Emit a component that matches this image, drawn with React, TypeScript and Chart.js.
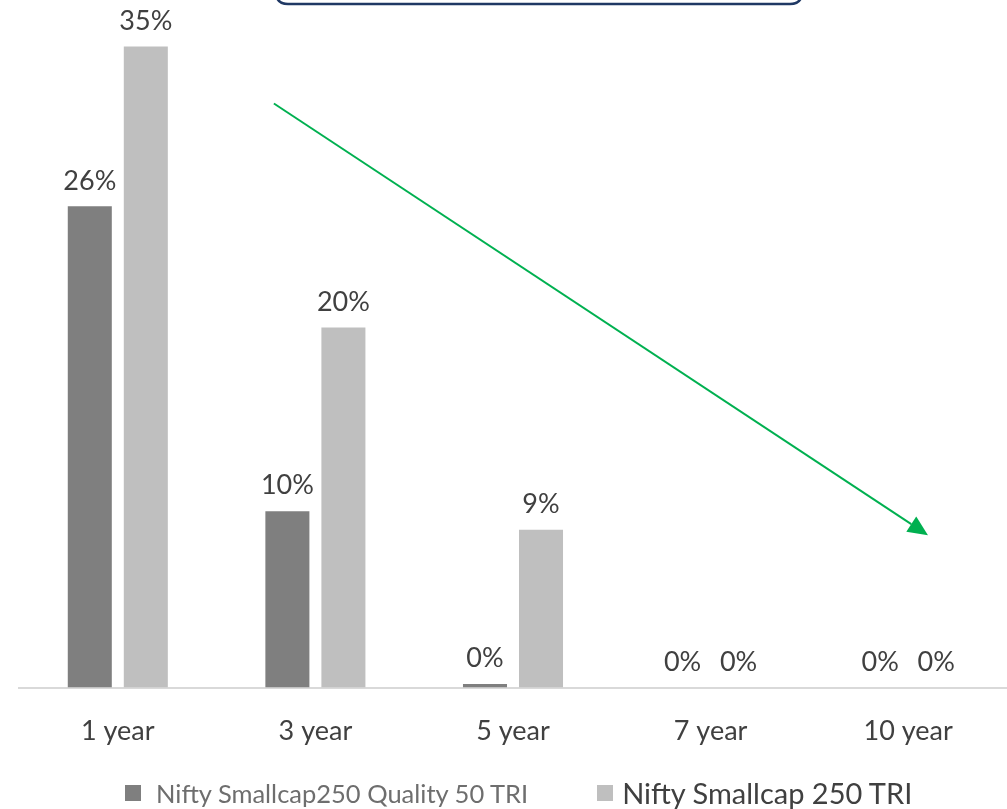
import React, { useEffect, useRef } from "react";
import { Chart, registerables } from "chart.js";

Chart.register(...registerables);

const CATEGORIES = ["1 year", "3 year", "5 year", "7 year", "10 year"];
const QUALITY_50 = [26.2, 9.6, 0.2, 0, 0];
const SMALLCAP_250 = [34.9, 19.6, 8.6, 0, 0];
const SERIES_NAMES = ["Nifty Smallcap250 Quality 50 TRI", "Nifty Smallcap 250 TRI"];
const SERIES_COLORS = ["#7F7F7F", "#BFBFBF"];
const LEGEND_TEXT_COLORS = ["#6E6E6E", "#404040"];
const LEGEND_FONT_SIZES = [25.5, 29];
const Y_MAX = 37;
// arrow in data space: [categoryIndex, value]
const ARROW_FROM = [0.79, 31.8];
const ARROW_TO = [4.1, 8.3];

const FONT = "Lato";

const dataLabelPlugin = {
  id: "dataLabels",
  afterDatasetsDraw(chart: any) {
    const ctx = chart.ctx;
    ctx.save();
    ctx.font = `27px ${FONT}`;
    ctx.fillStyle = "#404040";
    ctx.textAlign = "center";
    ctx.textBaseline = "bottom";
    chart.data.datasets.forEach((ds: any, di: number) => {
      const meta = chart.getDatasetMeta(di);
      meta.data.forEach((bar: any, i: number) => {
        const v = ds.data[i];
        ctx.fillText(`${Math.round(v)}%`, bar.x, bar.y - 12);
      });
    });
    ctx.restore();
  },
};

const decorPlugin = {
  id: "decor",
  afterDraw(chart: any) {
    const ctx = chart.ctx;
    const xs = chart.scales.x;
    const ys = chart.scales.y;
    // arrow
    const x1 = xs.getPixelForValue(ARROW_FROM[0]);
    const y1 = ys.getPixelForValue(ARROW_FROM[1]);
    const x2 = xs.getPixelForValue(ARROW_TO[0]);
    const y2 = ys.getPixelForValue(ARROW_TO[1]);
    const ang = Math.atan2(y2 - y1, x2 - x1);
    const head = 20;
    const hw = 9;
    ctx.save();
    ctx.strokeStyle = "#00B050";
    ctx.fillStyle = "#00B050";
    ctx.lineWidth = 2;
    const bx = x2 - Math.cos(ang) * head;
    const by = y2 - Math.sin(ang) * head;
    ctx.beginPath();
    ctx.moveTo(x1, y1);
    ctx.lineTo(bx, by);
    ctx.stroke();
    ctx.beginPath();
    ctx.moveTo(x2, y2);
    ctx.lineTo(bx + Math.sin(ang) * hw, by - Math.cos(ang) * hw);
    ctx.lineTo(bx - Math.sin(ang) * hw, by + Math.cos(ang) * hw);
    ctx.closePath();
    ctx.fill();
    // partially visible title box
    const left = 276;
    const right = 802;
    const bottom = 4;
    const top = -60;
    const r = 12;
    ctx.strokeStyle = "#1F3864";
    ctx.lineWidth = 2.5;
    ctx.beginPath();
    ctx.moveTo(left, top);
    ctx.lineTo(left, bottom - r);
    ctx.quadraticCurveTo(left, bottom, left + r, bottom);
    ctx.lineTo(right - r, bottom);
    ctx.quadraticCurveTo(right, bottom, right, bottom - r);
    ctx.lineTo(right, top);
    ctx.stroke();
    ctx.restore();
  },
};

export default function App() {
  const canvasRef = useRef<HTMLCanvasElement | null>(null);

  useEffect(() => {
    if (!canvasRef.current) return;
    const chart = new Chart(canvasRef.current, {
      type: "bar",
      data: {
        labels: CATEGORIES,
        datasets: [
          {
            label: SERIES_NAMES[0],
            data: QUALITY_50,
            backgroundColor: SERIES_COLORS[0],
            categoryPercentage: 0.567,
            barPercentage: 0.786,
          },
          {
            label: SERIES_NAMES[1],
            data: SMALLCAP_250,
            backgroundColor: SERIES_COLORS[1],
            categoryPercentage: 0.567,
            barPercentage: 0.786,
          },
        ],
      },
      options: {
        responsive: true,
        maintainAspectRatio: false,
        animation: false,
        layout: { padding: { top: 8, left: 19, right: 0, bottom: 35 } },
        plugins: {
          tooltip: { enabled: false },
          legend: { display: false },
        },
        scales: {
          x: {
            grid: { display: false, drawTicks: false },
            border: { display: true, color: "#D9D9D9", width: 2 },
            ticks: {
              font: { family: FONT, size: 27 },
              color: "#404040",
              padding: 27,
            },
          },
          y: {
            display: false,
            min: 0,
            max: Y_MAX,
          },
        },
      },
      plugins: [dataLabelPlugin, decorPlugin],
    });
    return () => chart.destroy();
  }, []);

  return (
    <div
      style={{
        position: "fixed",
        left: 0,
        top: 0,
        width: 1007,
        height: 809,
        background: "#FFFFFF",
        overflow: "hidden",
      }}
    >
      <div style={{ position: "absolute", left: 0, top: 0, width: 1007, height: 809 }}>
        <canvas ref={canvasRef} />
      </div>
      <div
        style={{
          position: "absolute",
          left: 125,
          top: 778,
          height: 30,
          display: "flex",
          alignItems: "center",
          fontFamily: FONT,
          lineHeight: "30px",
          whiteSpace: "nowrap",
        }}
      >
        {SERIES_NAMES.map((name, i) => (
          <div
            key={name}
            style={{
              display: "flex",
              alignItems: "center",
              marginRight: i === 0 ? 69 : 0,
            }}
          >
            <span
              style={{
                display: "inline-block",
                width: 16,
                height: 16,
                background: SERIES_COLORS[i],
                marginRight: i === 0 ? 15 : 9,
              }}
            />
            <span style={{ color: LEGEND_TEXT_COLORS[i], fontSize: LEGEND_FONT_SIZES[i] }}>
              {name}
            </span>
          </div>
        ))}
      </div>
    </div>
  );
}
